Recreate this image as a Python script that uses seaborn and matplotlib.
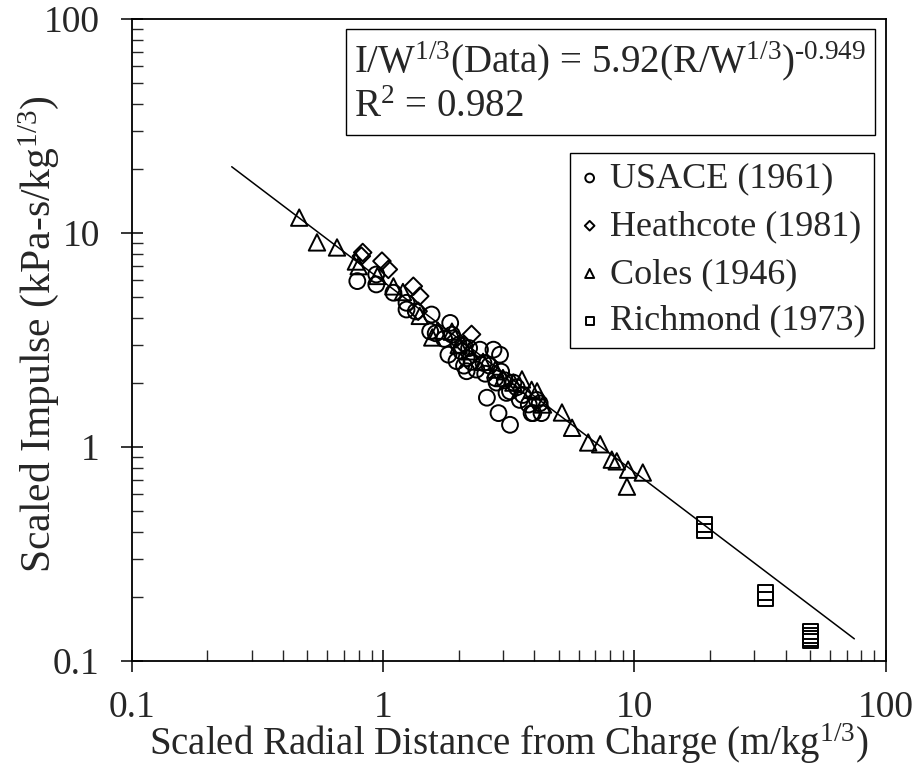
import numpy as np
import pandas as pd
import matplotlib
matplotlib.use("Agg")
import matplotlib.pyplot as plt
import seaborn as sns

# Scaled distance (m/kg^1/3) and scaled impulse (kPa-s/kg^1/3) per source
usace_x = [0.79, 0.94, 0.94, 1.10, 1.24, 1.24, 1.35, 1.56, 1.54, 1.62, 1.75, 1.85,
           1.82, 1.88, 1.96, 2.00, 2.05, 2.10, 2.15, 2.15, 2.20, 2.25, 2.35, 2.43,
           2.51, 2.55, 2.59, 2.65, 2.75, 2.80, 2.83, 2.88, 2.92, 2.95, 3.05, 3.10,
           3.20, 3.20, 3.30, 3.40, 3.50, 3.60, 3.80, 3.90, 3.96, 4.09, 4.27, 4.20]
usace_y = [5.96, 5.75, 6.40, 5.26, 4.39, 4.72, 4.30, 4.16, 3.47, 3.40, 3.20, 3.80,
           2.70, 3.35, 2.52, 3.00, 2.80, 2.40, 2.26, 2.60, 2.90, 2.50, 2.30, 2.85,
           2.47, 2.20, 1.70, 2.40, 2.85, 2.10, 2.00, 1.44, 2.70, 2.25, 2.05, 1.79,
           1.27, 1.82, 2.00, 1.90, 1.66, 1.75, 1.58, 1.44, 1.44, 1.66, 1.44, 1.60]

heath_x = [0.82, 0.83, 0.99, 1.05, 1.32, 1.40, 1.38, 2.25, 1.95, 2.10]
heath_y = [7.80, 8.11, 7.39, 6.76, 5.64, 5.07, 4.31, 3.36, 3.20, 3.00]

coles_x = [0.464, 0.546, 0.656, 0.78, 0.80, 0.95, 1.10, 1.20, 1.40, 1.57, 1.65,
           1.88, 2.0, 2.2, 2.5, 2.8, 3.0, 3.3, 3.57, 3.9, 4.10, 4.33, 5.15, 5.65,
           6.55, 7.31, 8.13, 8.51, 9.44, 10.8, 9.34]
coles_y = [11.8, 9.04, 8.56, 7.36, 7.0, 6.3, 5.63, 5.3, 4.1, 3.25, 3.5, 3.46,
           3.0, 2.8, 2.5, 2.3, 2.1, 2.0, 2.07, 1.85, 1.82, 1.58, 1.45, 1.23,
           1.05, 1.03, 0.873, 0.857, 0.784, 0.760, 0.653]

rich_x = [19.0, 19.0, 33.3, 33.3, 50.0, 50.0, 50.0, 50.0]
rich_y = [0.435, 0.405, 0.210, 0.195, 0.138, 0.132, 0.128, 0.124]

# power-law fit line, end points
fit_x = [0.25, 75.0]
fit_y = [20.4, 0.127]

series = [
    ("USACE (1961)", usace_x, usace_y, "o", 130),
    ("Heathcote (1981)", heath_x, heath_y, "D", 80),
    ("Coles (1946)", coles_x, coles_y, "^", 140),
    ("Richmond (1973)", rich_x, rich_y, "s", 115),
]

sns.set_style("ticks")
plt.rcParams["font.family"] = ["Liberation Serif", "DejaVu Serif"]
plt.rcParams["mathtext.fontset"] = "custom"
plt.rcParams["mathtext.rm"] = "Liberation Serif"
plt.rcParams["mathtext.it"] = "Liberation Serif:italic"
plt.rcParams["mathtext.default"] = "regular"

fig = plt.figure(figsize=(9.19, 7.69), dpi=100)
ax = fig.add_axes([0.1433, 0.1404, 0.8205, 0.8349])

sns.lineplot(x=fit_x, y=fit_y, color="black", linewidth=1.1, ax=ax, legend=False)

for label, xs, ys, mk, size in series:
    df = pd.DataFrame({"x": xs, "y": ys})
    sns.scatterplot(data=df, x="x", y="y", marker=mk, s=size, facecolor="none",
                    edgecolor="black", linewidth=1.4, label=label, ax=ax)

ax.set_xscale("log")
ax.set_yscale("log")
ax.set_xlim(0.1, 100)
ax.set_ylim(0.1, 100)

for sp in ax.spines.values():
    sp.set_linewidth(1.3)
    sp.set_color("black")

ax.tick_params(which="major", direction="inout", length=16, width=1.3,
               labelsize=27, top=False, right=False)
ax.tick_params(axis="y", which="major", pad=15)
ax.tick_params(axis="x", which="major", pad=13)
ax.tick_params(which="minor", direction="in", length=8, width=1.0,
               top=False, right=False)
ax.set_xticks([0.1, 1, 10, 100])
ax.set_xticklabels(["0.1", "1", "10", "100"])
ax.set_yticks([0.1, 1, 10, 100])
ax.set_yticklabels(["0.1", "1", "10", "100"])

ax.set_xlabel("Scaled Radial Distance from Charge (m/kg$^{1/3}$)", fontsize=28)
ax.set_ylabel("Scaled Impulse (kPa-s/kg$^{1/3}$)", fontsize=30)
ax.xaxis.set_label_coords(0.5, -0.094)
ax.yaxis.set_label_coords(-0.094, 0.51)

ax.text(0.974, 0.968,
        "I/W$^{1/3}$(Data) = 5.92(R/W$^{1/3}$)$^{\u20100.949}$\nR$^{2}$ = 0.982",
        transform=ax.transAxes, ha="right", va="top", fontsize=28,
        multialignment="left", linespacing=1.22,
        bbox=dict(boxstyle="square,pad=0.22", facecolor="white",
                  edgecolor="black", linewidth=1.0))

leg = ax.legend(loc="upper right", bbox_to_anchor=(0.9845, 0.791),
                borderaxespad=0, fontsize=26, markerscale=0.55,
                handlelength=0.6, handletextpad=0.25, labelspacing=0.4,
                borderpad=0.25, fancybox=False, framealpha=1)
leg.get_frame().set_edgecolor("black")
leg.get_frame().set_linewidth(1.0)

fig.savefig("out.png", dpi=100)
